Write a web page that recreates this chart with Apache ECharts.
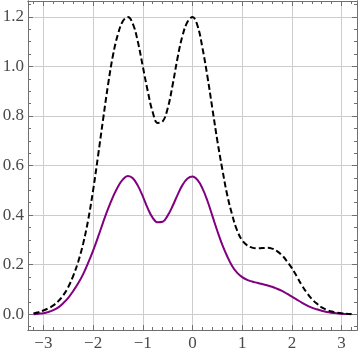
<!DOCTYPE html>
<html>
<head>
<meta charset="utf-8">
<style>
  html, body { margin: 0; padding: 0; background: #fff; }
  #chart { width: 360px; height: 355px; }
</style>
<script src="https://cdn.jsdelivr.net/npm/echarts@6/dist/echarts.min.js"></script>
</head>
<body>
<div id="chart"></div>
<script>
// sample positions along x
const xs = [
  -3.2, -3.1, -3.0, -2.9, -2.8, -2.7, -2.6, -2.5, -2.4, -2.3, -2.2, -2.1, -2.0,
  -1.9, -1.8, -1.7, -1.6, -1.5, -1.4, -1.3, -1.2, -1.1, -1.0,
  -0.9, -0.8, -0.7, -0.6, -0.5, -0.4, -0.3, -0.2, -0.1, 0.0,
  0.1, 0.2, 0.3, 0.4, 0.5, 0.6, 0.7, 0.8, 0.9, 1.0,
  1.1, 1.2, 1.3, 1.4, 1.5, 1.6, 1.7, 1.8, 1.9, 2.0,
  2.1, 2.2, 2.3, 2.4, 2.5, 2.6, 2.7, 2.8, 2.9, 3.0, 3.1, 3.2
];
// black dashed curve
const dashedVals = [
  0.003, 0.008, 0.015, 0.024, 0.036, 0.053, 0.077, 0.110, 0.155, 0.212, 0.285, 0.380, 0.500,
  0.640, 0.785, 0.925, 1.045, 1.130, 1.183, 1.199, 1.172, 1.100, 1.000,
  0.900, 0.815, 0.772, 0.778, 0.830, 0.925, 1.035, 1.125, 1.180, 1.199,
  1.165, 1.075, 0.960, 0.830, 0.700, 0.585, 0.480, 0.400, 0.337, 0.298,
  0.278, 0.269, 0.266, 0.267, 0.268, 0.265, 0.255, 0.238, 0.214, 0.186,
  0.152, 0.117, 0.087, 0.062, 0.043, 0.028, 0.018, 0.011, 0.007, 0.004, 0.002, 0.001
];
// purple solid curve
const purpleVals = [
  0.000, 0.002, 0.004, 0.009, 0.017, 0.028, 0.045, 0.066, 0.094, 0.125, 0.162, 0.207, 0.257,
  0.312, 0.370, 0.425, 0.474, 0.515, 0.544, 0.558, 0.549, 0.519, 0.476,
  0.427, 0.389, 0.371, 0.373, 0.398, 0.437, 0.482, 0.522, 0.548, 0.556,
  0.542, 0.508, 0.458, 0.397, 0.336, 0.280, 0.233, 0.194, 0.167, 0.150,
  0.139, 0.132, 0.127, 0.122, 0.117, 0.111, 0.103, 0.094, 0.083, 0.071,
  0.059, 0.047, 0.036, 0.027, 0.020, 0.014, 0.009, 0.006, 0.004, 0.002, 0.001, 0.000
];
const xTicks = [-3, -2, -1, 0, 1, 2, 3];
const xTickLabels = ['\u22123', '\u22122', '\u22121', '0', '1', '2', '3'];
const yTicks = [0, 0.2, 0.4, 0.6, 0.8, 1.0, 1.2];
const yTickLabels = ['0.0', '0.2', '0.4', '0.6', '0.8', '1.0', '1.2'];

const X_MIN = -3.31, X_MAX = 3.31;
const Y_MIN = -0.0635, Y_MAX = 1.264;
const frameColor = '#707070';

function findLabel(ticks, labels, v) {
  for (let i = 0; i < ticks.length; i++) {
    if (Math.abs(ticks[i] - v) < 1e-6) return labels[i];
  }
  return '';
}

// one axis of the frame; major = long ticks + labels + grid lines
function makeAxis(dim, position, step, major, labelled) {
  const ax = {
    type: 'value',
    position: position,
    min: dim === 'x' ? X_MIN : Y_MIN,
    max: dim === 'x' ? X_MAX : Y_MAX,
    minInterval: step,
    maxInterval: step,
    splitNumber: 6,
    axisLine: { show: true, onZero: false, lineStyle: { color: frameColor, width: 1 } },
    axisTick: { show: true, inside: true, length: major ? 5 : 3, lineStyle: { color: frameColor, width: 1 } },
    axisLabel: { show: false },
    splitLine: { show: false },
    z: 3
  };
  if (labelled) {
    ax.axisLabel = {
      show: true,
      margin: dim === 'x' ? 5 : 4,
      color: '#4a4a4a',
      fontFamily: 'Liberation Serif',
      fontSize: 17,
      formatter: (v) => dim === 'x' ? findLabel(xTicks, xTickLabels, v) : findLabel(yTicks, yTickLabels, v)
    };
    ax.splitLine = { show: true, lineStyle: { color: '#cccccc', width: 1 } };
  }
  return ax;
}

const chart = echarts.init(document.getElementById('chart'));
let option = {
  animation: false,
  backgroundColor: '#ffffff',
  grid: { left: 28, right: 3, top: 1, bottom: 25, containLabel: false, outerBoundsMode: 'none' },
  xAxis: [
    makeAxis('x', 'bottom', 1, true, true),
    makeAxis('x', 'bottom', 0.2, false, false),
    makeAxis('x', 'top', 1, true, false),
    makeAxis('x', 'top', 0.2, false, false)
  ],
  yAxis: [
    makeAxis('y', 'left', 0.2, true, true),
    makeAxis('y', 'left', 0.05, false, false),
    makeAxis('y', 'right', 0.2, true, false),
    makeAxis('y', 'right', 0.05, false, false)
  ],
  series: [
    {
      name: 'purple',
      type: 'line',
      xAxisIndex: 0,
      yAxisIndex: 0,
      data: xs.map((x, i) => [x, purpleVals[i]]),
      showSymbol: false,
      smooth: 0.4,
      lineStyle: { color: '#800080', width: 2 },
      z: 5
    },
    {
      name: 'dashed',
      type: 'line',
      xAxisIndex: 0,
      yAxisIndex: 0,
      data: xs.map((x, i) => [x, dashedVals[i]]),
      showSymbol: false,
      smooth: 0.4,
      lineStyle: { color: '#000000', width: 2, type: [6, 3] },
      z: 6
    }
  ]
};
chart.setOption(option);
</script>
</body>
</html>
